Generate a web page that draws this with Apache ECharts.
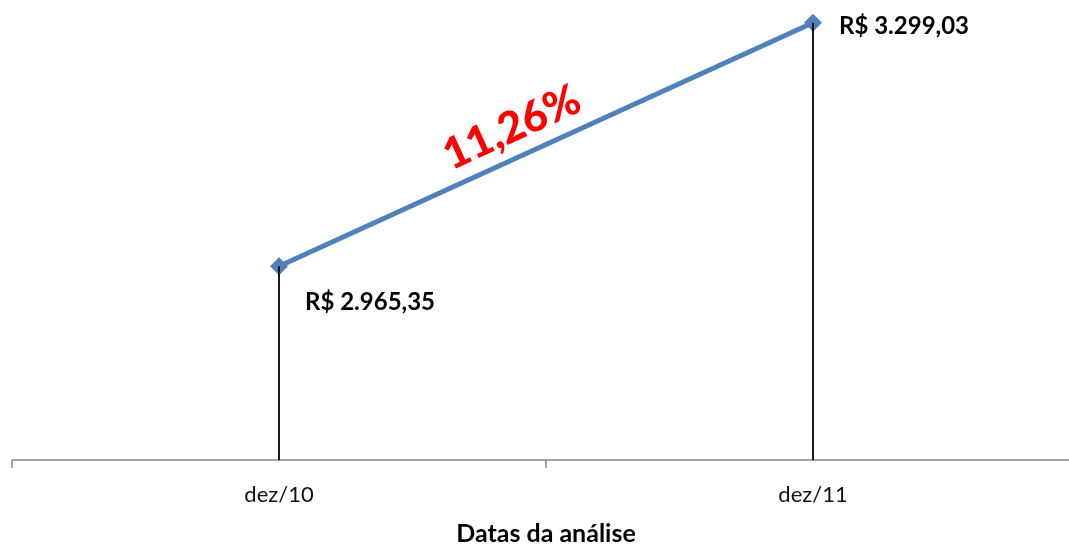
<!DOCTYPE html>
<html>
<head>
<meta charset="utf-8">
<script src="https://cdn.jsdelivr.net/npm/echarts@6/dist/echarts.min.js"></script>
<style>
html,body{margin:0;padding:0;background:#fff;}
#c{width:1069px;height:545px;}
</style>
</head>
<body>
<div id="c"></div>
<script>
const categories = ['dez/10', 'dez/11'];
const values = [2965.35, 3299.03];
const changeLabel = '11,26%';
const xAxisTitle = 'Datas da análise';

function brl(v) {
  const parts = v.toFixed(2).split('.');
  const intPart = parts[0].replace(/\B(?=(\d{3})+(?!\d))/g, '.');
  return 'R$ ' + intPart + ',' + parts[1];
}

const FONT = 'Lato, "Open Sans", sans-serif';
const yMin = 2700, yMax = 3300;

const labelCfg = [
  { position: 'right', distance: 17, offset: [0, 36] },
  { position: 'right', distance: 17, offset: [0, 4] }
];

const seriesData = values.map((v, i) => ({
  value: v,
  label: Object.assign({
    show: true,
    formatter: brl(v),
    fontFamily: FONT,
    fontWeight: 'bold',
    fontSize: 24,
    color: '#000'
  }, labelCfg[i])
}));

const dropLines = values.map((v, i) => [
  { coord: [i, v] },
  { coord: [i, yMin] }
]);

const chart = echarts.init(document.getElementById('c'));
chart.setOption({
  animation: false,
  grid: { left: 12, top: 22, width: 1068, bottom: 85, containLabel: false, outerBoundsMode: 'none' },
  xAxis: {
    type: 'category',
    data: categories,
    boundaryGap: true,
    axisLine: { lineStyle: { color: '#888888', width: 1.5 } },
    axisTick: { show: true, length: 8, lineStyle: { color: '#888888', width: 1.5 } },
    axisLabel: { fontFamily: FONT, fontSize: 22, color: '#111', margin: 24 },
    name: xAxisTitle,
    nameLocation: 'middle',
    nameGap: 61,
    nameTextStyle: { fontFamily: FONT, fontWeight: 'bold', fontSize: 25, color: '#000' }
  },
  yAxis: {
    type: 'value',
    min: yMin,
    max: yMax,
    show: false
  },
  series: [
    {
      type: 'line',
      data: seriesData,
      symbol: 'diamond',
      symbolSize: 18,
      lineStyle: { color: '#4F81BD', width: 5 },
      itemStyle: { color: '#4F81BD' },
      z: 3,
      markLine: {
        silent: true,
        symbol: 'none',
        animation: false,
        data: dropLines.concat([
          [
            { coord: [0, values[0]], lineStyle: { color: 'rgba(0,0,0,0)', width: 0 },
              label: { show: true, position: 'middle', formatter: changeLabel,
                fontFamily: FONT, fontWeight: 900, fontSize: 43, color: '#FF0000',
                distance: 8, padding: [0, 48, 0, 0] } },
            { coord: [1, values[1]] }
          ]
        ]),
        lineStyle: { color: '#000', width: 1.8, type: 'solid' },
        label: { show: false }
      }
    }
  ]
});
</script>
</body>
</html>
